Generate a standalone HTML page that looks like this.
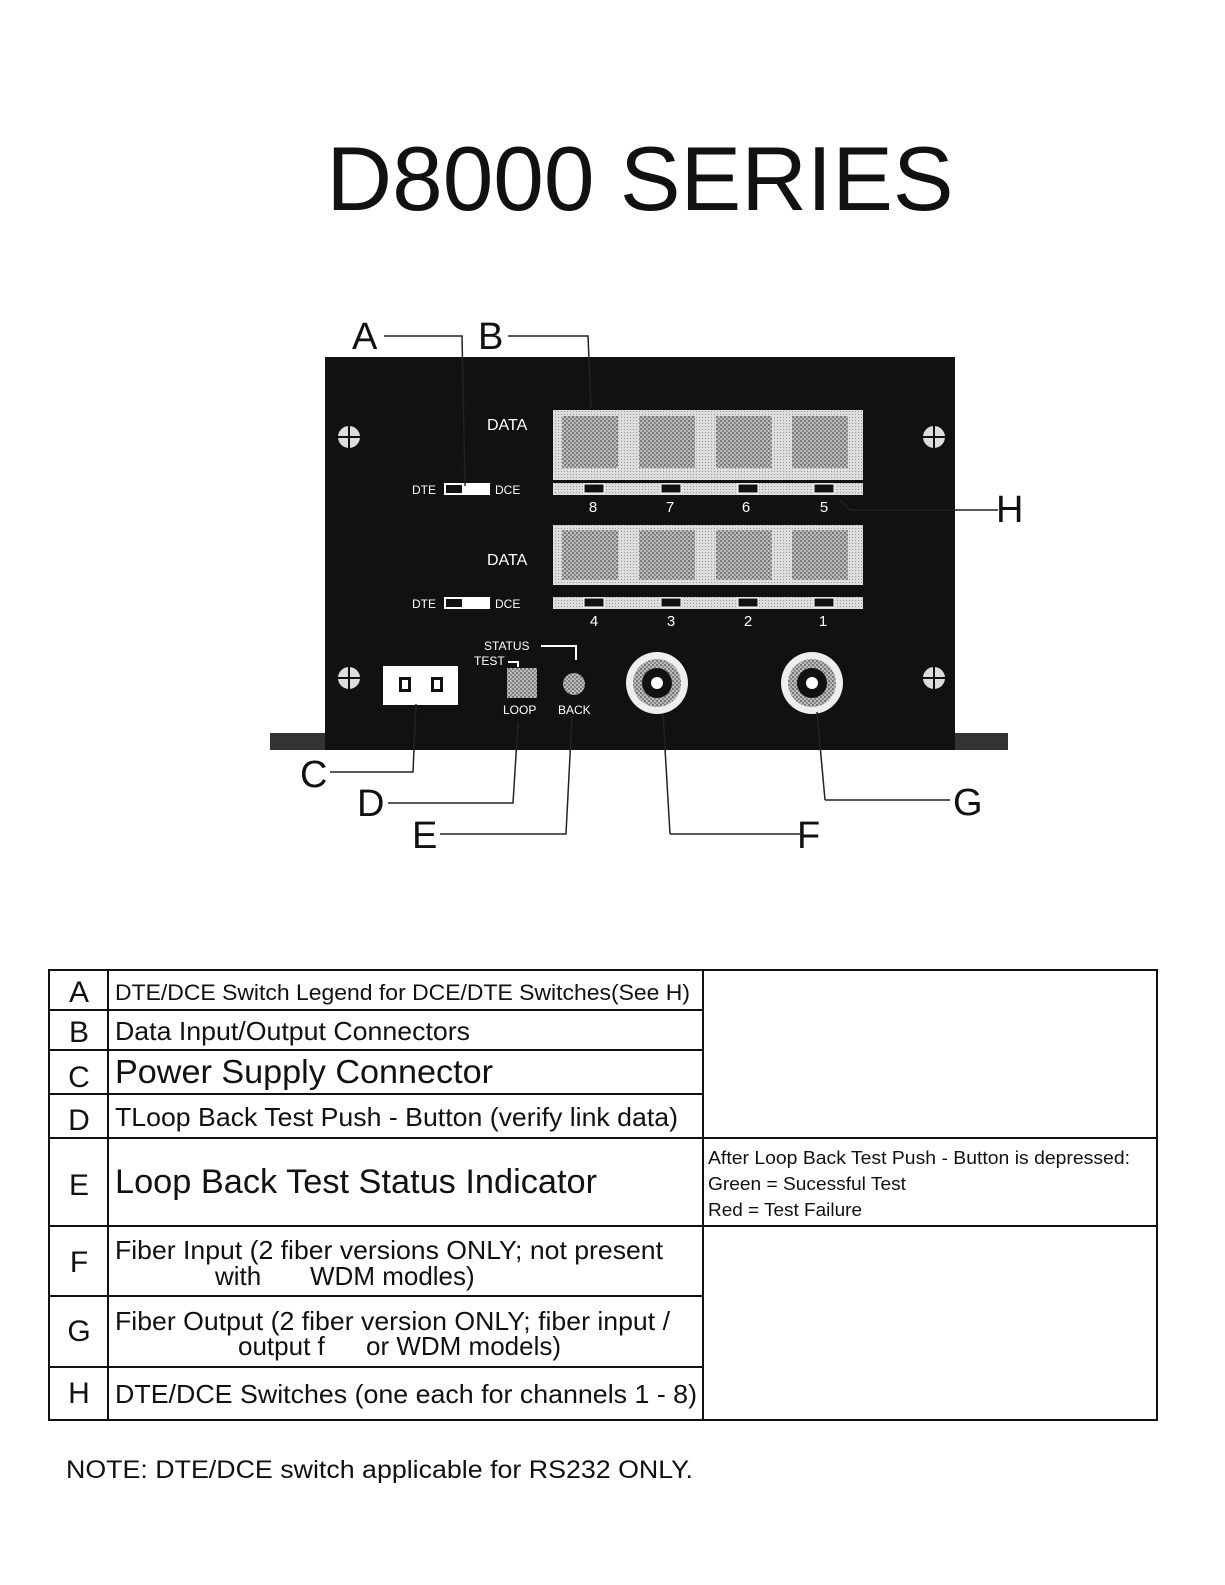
<!DOCTYPE html>
<html><head><meta charset="utf-8"><style>
body{margin:0;background:#fff;}
svg{display:block;font-family:"Liberation Sans",Arial,sans-serif;}
</style></head><body>
<svg width="1225" height="1585" viewBox="0 0 1225 1585" xmlns="http://www.w3.org/2000/svg">
<defs>
<pattern id="dots" width="4" height="4" patternUnits="userSpaceOnUse"><rect width="4" height="4" fill="#bbb"/><rect width="2" height="2" fill="#777"/><rect x="2" y="2" width="2" height="2" fill="#888"/></pattern>
<pattern id="lt" width="3" height="3" patternUnits="userSpaceOnUse"><rect width="3" height="3" fill="#ddd"/><rect width="1" height="1" fill="#999"/></pattern>
</defs>
<text x="640" y="210" font-size="91" text-anchor="middle" fill="#111">D8000 SERIES</text>

<rect x="270" y="733" width="738" height="17" fill="#333"/>
<rect x="325" y="357" width="630" height="393" fill="#111"/>

<g fill="#ddd" stroke="#111" stroke-width="2">
<circle cx="349" cy="437" r="12"/><circle cx="934" cy="437" r="12"/>
<circle cx="349" cy="678" r="12"/><circle cx="934" cy="678" r="12"/>
</g>
<g stroke="#111" stroke-width="2">
<path d="M337 437h24M349 425v24M922 437h24M934 425v24M337 678h24M349 666v24M922 678h24M934 666v24"/>
</g>

<text x="487" y="430" font-size="16" fill="#fff">DATA</text>
<rect x="553" y="410" width="310" height="70" fill="url(#lt)"/>
<g fill="url(#dots)">
<rect x="562" y="416" width="56" height="52"/><rect x="639" y="416" width="56" height="52"/>
<rect x="716" y="416" width="56" height="52"/><rect x="792" y="416" width="56" height="52"/>
</g>
<rect x="553" y="483" width="310" height="12" fill="url(#lt)"/>
<g fill="#111" stroke="#fff" stroke-width="1"><rect x="584" y="484" width="20" height="9"/><rect x="661" y="484" width="20" height="9"/><rect x="738" y="484" width="20" height="9"/><rect x="814" y="484" width="20" height="9"/></g>
<g fill="#fff" font-size="15" text-anchor="middle"><text x="593" y="512">8</text><text x="670" y="512">7</text><text x="746" y="512">6</text><text x="824" y="512">5</text></g>
<text x="412" y="494" font-size="12" fill="#fff">DTE</text>
<rect x="444" y="483" width="46" height="12" fill="#fff"/><rect x="446" y="485" width="16" height="8" fill="#111"/>
<text x="495" y="494" font-size="12" fill="#fff">DCE</text>

<text x="487" y="565" font-size="16" fill="#fff">DATA</text>
<rect x="553" y="525" width="310" height="60" fill="url(#lt)"/>
<g fill="url(#dots)">
<rect x="562" y="530" width="56" height="50"/><rect x="639" y="530" width="56" height="50"/>
<rect x="716" y="530" width="56" height="50"/><rect x="792" y="530" width="56" height="50"/>
</g>
<rect x="553" y="597" width="310" height="12" fill="url(#lt)"/>
<g fill="#111" stroke="#fff" stroke-width="1"><rect x="584" y="598" width="20" height="9"/><rect x="661" y="598" width="20" height="9"/><rect x="738" y="598" width="20" height="9"/><rect x="814" y="598" width="20" height="9"/></g>
<g fill="#fff" font-size="15" text-anchor="middle"><text x="594" y="626">4</text><text x="671" y="626">3</text><text x="748" y="626">2</text><text x="823" y="626">1</text></g>
<text x="412" y="608" font-size="12" fill="#fff">DTE</text>
<rect x="444" y="597" width="46" height="12" fill="#fff"/><rect x="446" y="599" width="16" height="8" fill="#111"/>
<text x="495" y="608" font-size="12" fill="#fff">DCE</text>

<rect x="383" y="666" width="75" height="39" fill="#fff"/>
<rect x="399" y="677" width="12" height="15" fill="#111"/><rect x="431" y="677" width="12" height="15" fill="#111"/>
<rect x="402" y="680" width="6" height="9" fill="#fff"/><rect x="434" y="680" width="6" height="9" fill="#fff"/>
<text x="484" y="650" font-size="12" fill="#fff">STATUS</text>
<path d="M541 646h35v14" stroke="#fff" stroke-width="2" fill="none"/>
<text x="474" y="665" font-size="12" fill="#fff">TEST</text>
<path d="M508 662h10v5" stroke="#fff" stroke-width="2" fill="none"/>
<rect x="507" y="668" width="30" height="30" fill="url(#dots)"/>
<circle cx="574" cy="684" r="11" fill="url(#dots)"/>
<text x="503" y="714" font-size="12" fill="#fff">LOOP</text>
<text x="558" y="714" font-size="12" fill="#fff">BACK</text>
<g>
<circle cx="657" cy="683" r="31" fill="#eee"/><circle cx="657" cy="683" r="24" fill="url(#dots)"/><circle cx="657" cy="683" r="15" fill="#111"/><circle cx="657" cy="683" r="6" fill="#fff"/>
<circle cx="812" cy="683" r="31" fill="#eee"/><circle cx="812" cy="683" r="24" fill="url(#dots)"/><circle cx="812" cy="683" r="15" fill="#111"/><circle cx="812" cy="683" r="6" fill="#fff"/>
</g>

<g stroke="#222" stroke-width="1.5" fill="none">
<path d="M384 336h78l3 150"/>
<path d="M508 336h80l3 72"/>
<path d="M840 500l10 10h148"/>
<path d="M330 772h83l3 -68"/>
<path d="M388 803h125l5 -80"/>
<path d="M440 834h126l6 -118"/>
<path d="M670 834h130M670 834l-7 -120"/>
<path d="M825 800h125M825 800l-8 -88"/>
</g>
<g font-size="38" fill="#111">
<text x="352" y="349">A</text><text x="478" y="349">B</text>
<text x="996" y="522">H</text>
<text x="300" y="787">C</text><text x="357" y="816">D</text><text x="412" y="848">E</text>
<text x="797" y="848">F</text><text x="953" y="815">G</text>
</g>

<g stroke="#111" stroke-width="2" fill="none">
<rect x="49" y="970" width="1108" height="450"/>
<path d="M108 970v450M703 970v450"/>
<path d="M49 1010h654M49 1050h654M49 1094h654M49 1138h1108M49 1226h1108M49 1296h654M49 1367h654"/>
</g>
<g font-size="30" fill="#111" text-anchor="middle">
<text x="79" y="1002">A</text><text x="79" y="1042">B</text><text x="79" y="1087">C</text>
<text x="79" y="1130">D</text><text x="79" y="1195">E</text><text x="79" y="1272">F</text>
<text x="79" y="1341">G</text><text x="79" y="1403">H</text>
</g>
<g fill="#111">
<text x="115" y="1000" font-size="22" textLength="575" lengthAdjust="spacingAndGlyphs">DTE/DCE Switch Legend for DCE/DTE Switches(See H)</text>
<text x="115" y="1040" font-size="26" textLength="355" lengthAdjust="spacingAndGlyphs">Data Input/Output Connectors</text>
<text x="115" y="1083" font-size="33" textLength="378" lengthAdjust="spacingAndGlyphs">Power Supply Connector</text>
<text x="115" y="1126" font-size="26" textLength="563" lengthAdjust="spacingAndGlyphs">TLoop Back Test Push - Button (verify link data)</text>
<text x="115" y="1193" font-size="34" textLength="482" lengthAdjust="spacingAndGlyphs">Loop Back Test Status Indicator</text>
<text x="115" y="1259" font-size="26" textLength="548" lengthAdjust="spacingAndGlyphs">Fiber Input (2 fiber versions ONLY; not present</text>
<text x="215" y="1285" font-size="26">with</text><text x="310" y="1285" font-size="26">WDM modles)</text>
<text x="115" y="1330" font-size="26" textLength="555" lengthAdjust="spacingAndGlyphs">Fiber Output (2 fiber version ONLY; fiber input /</text>
<text x="238" y="1355" font-size="26">output f</text><text x="366" y="1355" font-size="26">or WDM models)</text>
<text x="115" y="1403" font-size="26" textLength="582" lengthAdjust="spacingAndGlyphs">DTE/DCE Switches (one each for channels 1 - 8)</text>
<text x="708" y="1164" font-size="18" textLength="422" lengthAdjust="spacingAndGlyphs">After Loop Back Test  Push - Button is depressed:</text>
<text x="708" y="1190" font-size="18" textLength="198" lengthAdjust="spacingAndGlyphs">Green = Sucessful Test</text>
<text x="708" y="1216" font-size="18" textLength="154" lengthAdjust="spacingAndGlyphs">Red = Test Failure</text>
<text x="66" y="1478" font-size="25" textLength="627" lengthAdjust="spacingAndGlyphs">NOTE:  DTE/DCE switch applicable for RS232 ONLY.</text>
</g>
</svg>
</body></html>
